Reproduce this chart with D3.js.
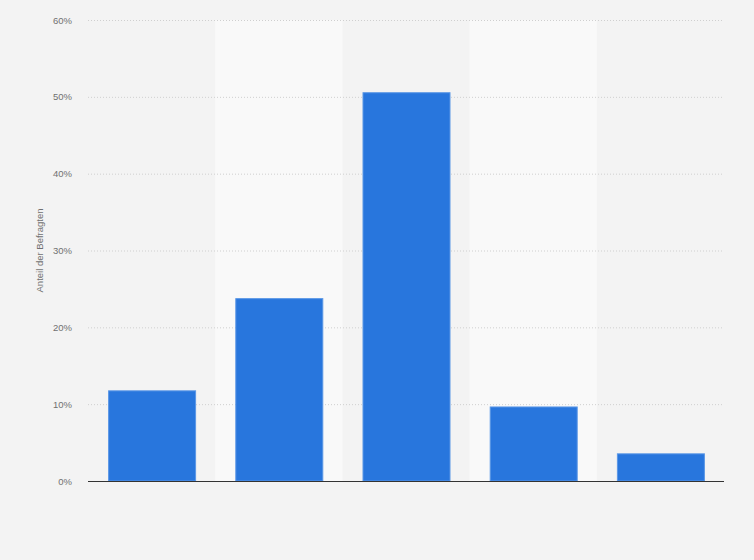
<!DOCTYPE html>
<html><head><meta charset="utf-8">
<script src="https://cdn.jsdelivr.net/npm/d3@7"></script>
<style>body{margin:0;background:#f3f3f3;}svg{display:block;font-family:Arial,"Liberation Sans",sans-serif;}</style>
</head><body><svg id="c" width="754" height="560"></svg>
<script>
const categories = ["Kategorie 1","Kategorie 2","Kategorie 3","Kategorie 4","Kategorie 5"];
const values = [11.8, 23.8, 50.6, 9.7, 3.6];
const yTicks = [0, 10, 20, 30, 40, 50, 60];
const yTitle = "Anteil der Befragten";

const svg = d3.select("#c");
const m = {l:88, r:30, t:20, b:79};
const W = 754, H = 560;
const x = d3.scaleBand().domain(categories).range([m.l, W - m.r]).paddingInner(0).paddingOuter(0);
const y = d3.scaleLinear().domain([0, 60]).range([H - m.b, m.t]);

svg.append("rect").attr("width", W).attr("height", H).attr("fill", "#f3f3f3");

// alternating bands
svg.append("g").selectAll("rect").data(categories.filter((d,i)=>i%2===1)).join("rect")
  .attr("x", d => x(d)).attr("width", x.bandwidth())
  .attr("y", y(60)).attr("height", y(0) - y(60)).attr("fill", "#f9f9f9");

// gridlines
svg.append("g").selectAll("line").data(yTicks.filter(t=>t>0)).join("line")
  .attr("x1", m.l).attr("x2", W - m.r)
  .attr("y1", d => y(d) + 0.5).attr("y2", d => y(d) + 0.5)
  .attr("stroke", "#cfcfcf").attr("stroke-width", 1).attr("stroke-dasharray", "1,2");

// tick labels
svg.append("g").selectAll("text").data(yTicks).join("text")
  .attr("x", 72).attr("y", d => y(d) + 3.5)
  .attr("text-anchor", "end").attr("font-size", 9.5).attr("fill", "#707070")
  .text(d => d + "%");

// axis title
svg.append("text").attr("transform", `translate(43,${(y(0)+y(60))/2}) rotate(-90)`)
  .attr("text-anchor", "middle").attr("font-size", 9.5).attr("fill", "#707070").text(yTitle);

// bars
const bw = 88;
svg.append("g").selectAll("rect").data(values).join("rect")
  .attr("x", (d,i) => x(categories[i]) + (x.bandwidth() - bw)/2 + 1)
  .attr("width", bw - 1)
  .attr("y", d => y(d) + 0.5)
  .attr("height", d => y(0) - y(d) - 0.5)
  .attr("fill", "#2876dd").attr("stroke", "#5a97e6").attr("stroke-width", 1);

// baseline
svg.append("line").attr("x1", m.l).attr("x2", W - m.r)
  .attr("y1", y(0) + 0.5).attr("y2", y(0) + 0.5)
  .attr("stroke", "#333").attr("stroke-width", 1.2);
</script></body></html>
